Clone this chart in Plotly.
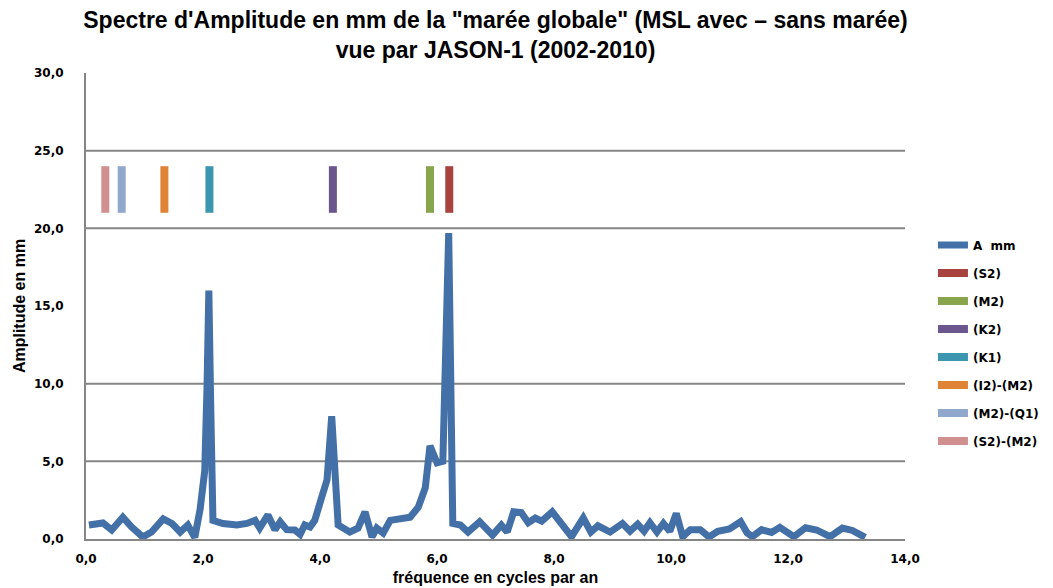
import plotly.graph_objects as go

# Amplitude spectrum (cycles per year, mm)
freq = [0.05, 0.29, 0.44, 0.63, 0.78, 0.97, 1.12, 1.32, 1.47, 1.61, 1.74, 1.86, 1.95, 2.03, 2.07,
        2.10, 2.13, 2.17, 2.34, 2.58, 2.75, 2.89, 2.97, 3.11, 3.23, 3.32, 3.43, 3.57, 3.66, 3.74,
        3.83, 3.91, 4.03, 4.12, 4.20, 4.26, 4.31, 4.51, 4.65, 4.77, 4.89, 4.97, 5.08, 5.20, 5.42,
        5.54, 5.68, 5.80, 5.88, 6.00, 6.10, 6.20, 6.27, 6.40, 6.53, 6.73, 6.95, 7.10, 7.20, 7.31,
        7.44, 7.56, 7.68, 7.79, 7.97, 8.10, 8.30, 8.50, 8.63, 8.75, 8.96, 9.17, 9.30, 9.43, 9.54,
        9.64, 9.76, 9.87, 9.98, 10.09, 10.20, 10.33, 10.50, 10.65, 10.80, 11.00, 11.19, 11.30,
        11.39, 11.55, 11.72, 11.86, 12.10, 12.30, 12.49, 12.72, 12.93, 13.10, 13.32]
amp_mm = [0.9, 1.03, 0.58, 1.4, 0.77, 0.13, 0.45, 1.3, 1.0, 0.45, 0.9, 0.1, 1.9, 4.4, 10.0,
          16.0, 9.0, 1.2, 1.0, 0.9, 1.0, 1.2, 0.7, 1.55, 0.6, 1.1, 0.6, 0.58, 0.3, 0.9,
          0.77, 1.2, 2.7, 3.8, 7.9, 4.4, 0.9, 0.45, 0.7, 1.75, 0.13, 0.7, 0.38, 1.2, 1.35,
          1.4, 2.05, 3.3, 6.0, 4.9, 5.0, 19.7, 1.0, 0.9, 0.45, 1.1, 0.25, 0.9, 0.45, 1.75,
          1.7, 1.05, 1.35, 1.15, 1.75, 1.1, 0.15, 1.35, 0.45, 0.85, 0.45, 1.0, 0.5, 0.95, 0.5,
          1.05, 0.45, 1.0, 0.5, 1.65, 0.15, 0.6, 0.6, 0.13, 0.5, 0.65, 1.12, 0.4,
          0.15, 0.6, 0.42, 0.75, 0.15, 0.72, 0.58, 0.15, 0.7, 0.55, 0.1]

# Tidal alias frequencies (cycles per year)
wave_names = ["(S2)", "(M2)", "(K2)", "(K1)", "(I2)-(M2)", "(M2)-(Q1)", "(S2)-(M2)"]
wave_freq = [6.21, 5.88, 4.22, 2.11, 1.34, 0.61, 0.33]
wave_low = 21.0
wave_high = 24.0
wave_colors = ["#A7423F", "#88A54C", "#6C568E", "#3C96B0", "#DF8436", "#90A8CC", "#D09090"]

grid_values = [5, 10, 20, 25]
x_ticks = [0, 2, 4, 6, 8, 10, 12, 14]
y_ticks = [0, 5, 10, 15, 20, 25, 30]

fig = go.Figure()
fig.add_trace(go.Scatter(x=freq, y=amp_mm, mode="lines", name="A  mm",
                         line=dict(color="#4470A8", width=7), legendgroup="a"))
for name, f, c in zip(wave_names, wave_freq, wave_colors):
    fig.add_trace(go.Scatter(x=[f, f], y=[wave_low, wave_high], mode="lines", name=name,
                             line=dict(color=c, width=8), legendgroup=name))

for g in grid_values:
    fig.add_shape(type="line", xref="paper", x0=0, x1=1, yref="y", y0=g, y1=g,
                  line=dict(color="#868686", width=2), layer="below")

fig.update_layout(
    width=1053, height=588,
    margin=dict(l=86, r=148, t=73, b=49, autoexpand=False),
    paper_bgcolor="white", plot_bgcolor="white",
    separators=", ",
    title=dict(text="Spectre d'Amplitude en mm de la \"marée globale\" (MSL avec – sans marée)<br>vue par JASON-1 (2002-2010)",
               x=0.5, xanchor="center", xref="paper", y=0.952, yanchor="top",
               font=dict(family="Liberation Sans, Arial", size=23, color="black", weight="bold")),
    font=dict(family="DejaVu Sans", color="black"),
    legend=dict(xref="container", x=0.886, yref="container", y=0.608, xanchor="left", yanchor="top",
                tracegroupgap=9,
                font=dict(family="DejaVu Sans", size=12, color="black", weight="bold"),
                itemwidth=30, bgcolor="rgba(0,0,0,0)"),
    showlegend=True,
)
fig.update_xaxes(range=[0, 14], tickvals=x_ticks, tickformat=".1f", showgrid=False,
                 showline=True, linecolor="#868686", linewidth=2, zeroline=False, ticks="",
                 ticklabelstandoff=8, automargin=False,
                 tickfont=dict(family="DejaVu Sans", size=12, color="black", weight="bold"),
                 title=dict(text="fréquence en cycles par an", standoff=6,
                            font=dict(family="Liberation Sans, Arial", size=16, color="black", weight="bold")))
fig.update_yaxes(range=[0, 30], tickvals=y_ticks, tickformat=".1f", showgrid=False,
                 showline=True, linecolor="#868686", linewidth=2, zeroline=False, ticks="",
                 ticklabelstandoff=18, automargin=False,
                 tickfont=dict(family="DejaVu Sans", size=12, color="black", weight="bold"),
                 title=dict(text="Amplitude en mm", standoff=4,
                            font=dict(family="Liberation Sans, Arial", size=16, color="black", weight="bold")))

fig.write_html("out.html", config={"displayModeBar": False},
               post_script="document.body.style.margin='0';document.body.style.overflow='hidden';")
